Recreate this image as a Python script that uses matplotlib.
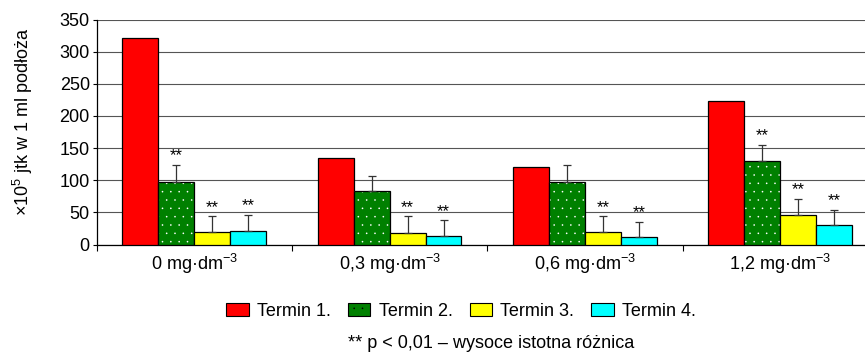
import matplotlib.pyplot as plt
import numpy as np
from matplotlib.patches import Patch

plt.rcParams['font.family'] = ['Liberation Sans', 'DejaVu Sans']
plt.rcParams['mathtext.fontset'] = 'custom'
plt.rcParams['mathtext.rm'] = 'Liberation Sans'
plt.rcParams['mathtext.it'] = 'Liberation Sans'
plt.rcParams['hatch.linewidth'] = 0.0

# data
categories = ['0 mg·dm$^{-3}$', '0,3 mg·dm$^{-3}$', '0,6 mg·dm$^{-3}$', '1,2 mg·dm$^{-3}$']
series = ['Termin 1.', 'Termin 2.', 'Termin 3.', 'Termin 4.']
t1 = [321, 135, 121, 223]
t2 = [98, 83, 98, 130]
t3 = [19, 18, 20, 46]
t4 = [21, 14, 11, 30]
e2 = [26, 24, 26, 25]
e3 = [25, 26, 24, 25]
e4 = [25, 24, 24, 24]
# significance marks (**) per series
sig2 = [True, False, False, True]
sig3 = [True, True, True, True]
sig4 = [True, True, True, True]

colors = ['#ff0000', '#008000', '#ffff00', '#00ffff']
values = [t1, t2, t3, t4]
errs = [None, e2, e3, e4]
sigs = [None, sig2, sig3, sig4]
fs = 13

fig = plt.figure(figsize=(8.65, 3.54), dpi=100)
ax = fig.add_axes([0.1118, 0.3093, 0.903, 0.6356])

x = np.arange(len(categories)) + 0.5
w = 0.184
for i in range(4):
    xi = x + (i - 1.5) * w
    if i == 1:
        # dotted green fill, white dots
        ax.bar(xi, values[i], w, color=colors[i], edgecolor='white',
               hatch='..', linewidth=0, zorder=3)
        ax.bar(xi, values[i], w, fill=False, edgecolor='black',
               linewidth=0.9, zorder=3)
    else:
        ax.bar(xi, values[i], w, color=colors[i], edgecolor='black',
               linewidth=0.9, zorder=3)
    if errs[i] is not None:
        ax.errorbar(xi, values[i], yerr=[np.zeros(4), errs[i]], fmt='none',
                    ecolor='#333333', elinewidth=0.9, capsize=3,
                    capthick=0.9, zorder=4)
        for j in range(4):
            if sigs[i][j]:
                ax.annotate('**', (xi[j], values[i][j] + errs[i][j]),
                            xytext=(0, 1), textcoords='offset points',
                            ha='center', va='bottom', fontsize=12)

ax.set_xlim(0, 4)
ax.set_ylim(0, 350)
ax.set_yticks(np.arange(0, 351, 50))
ax.yaxis.grid(True, color='#555555', linewidth=0.8, zorder=0)
ax.set_axisbelow(True)
ax.set_xticks([0, 1, 2, 3, 4])
ax.set_xticklabels([])
ax.set_xticks(x, minor=True)
ax.set_xticklabels(categories, minor=True, fontsize=fs)
ax.tick_params(axis='x', which='minor', length=0, pad=5)
ax.tick_params(axis='x', which='major', length=4, width=0.8, direction='out')
ax.tick_params(axis='y', length=3, width=0.8, labelsize=fs, pad=2)
for s in ['top', 'right']:
    ax.spines[s].set_visible(False)
for s in ['left', 'bottom']:
    ax.spines[s].set_linewidth(0.9)

fig.text(0.026, 0.655, '×10$^5$ jtk w 1 ml podłoża', rotation=90,
         ha='center', va='center', fontsize=fs)

handles = []
for i in range(4):
    if i == 1:
        handles.append(Patch(facecolor=colors[i], edgecolor='black', hatch='..', linewidth=0.8))
    else:
        handles.append(Patch(facecolor=colors[i], edgecolor='black', linewidth=0.8))
fig.legend(handles, series, loc='center', bbox_to_anchor=(461 / 865, 1 - 311 / 354),
           ncol=4, frameon=False, fontsize=fs, handlelength=1.25, handleheight=0.7,
           columnspacing=0.95, handletextpad=0.45)

fig.text(491 / 865, 1 - 343 / 354, '** p < 0,01 – wysoce istotna różnica',
         ha='center', va='center', fontsize=fs)

plt.savefig('out.png', dpi=100)
